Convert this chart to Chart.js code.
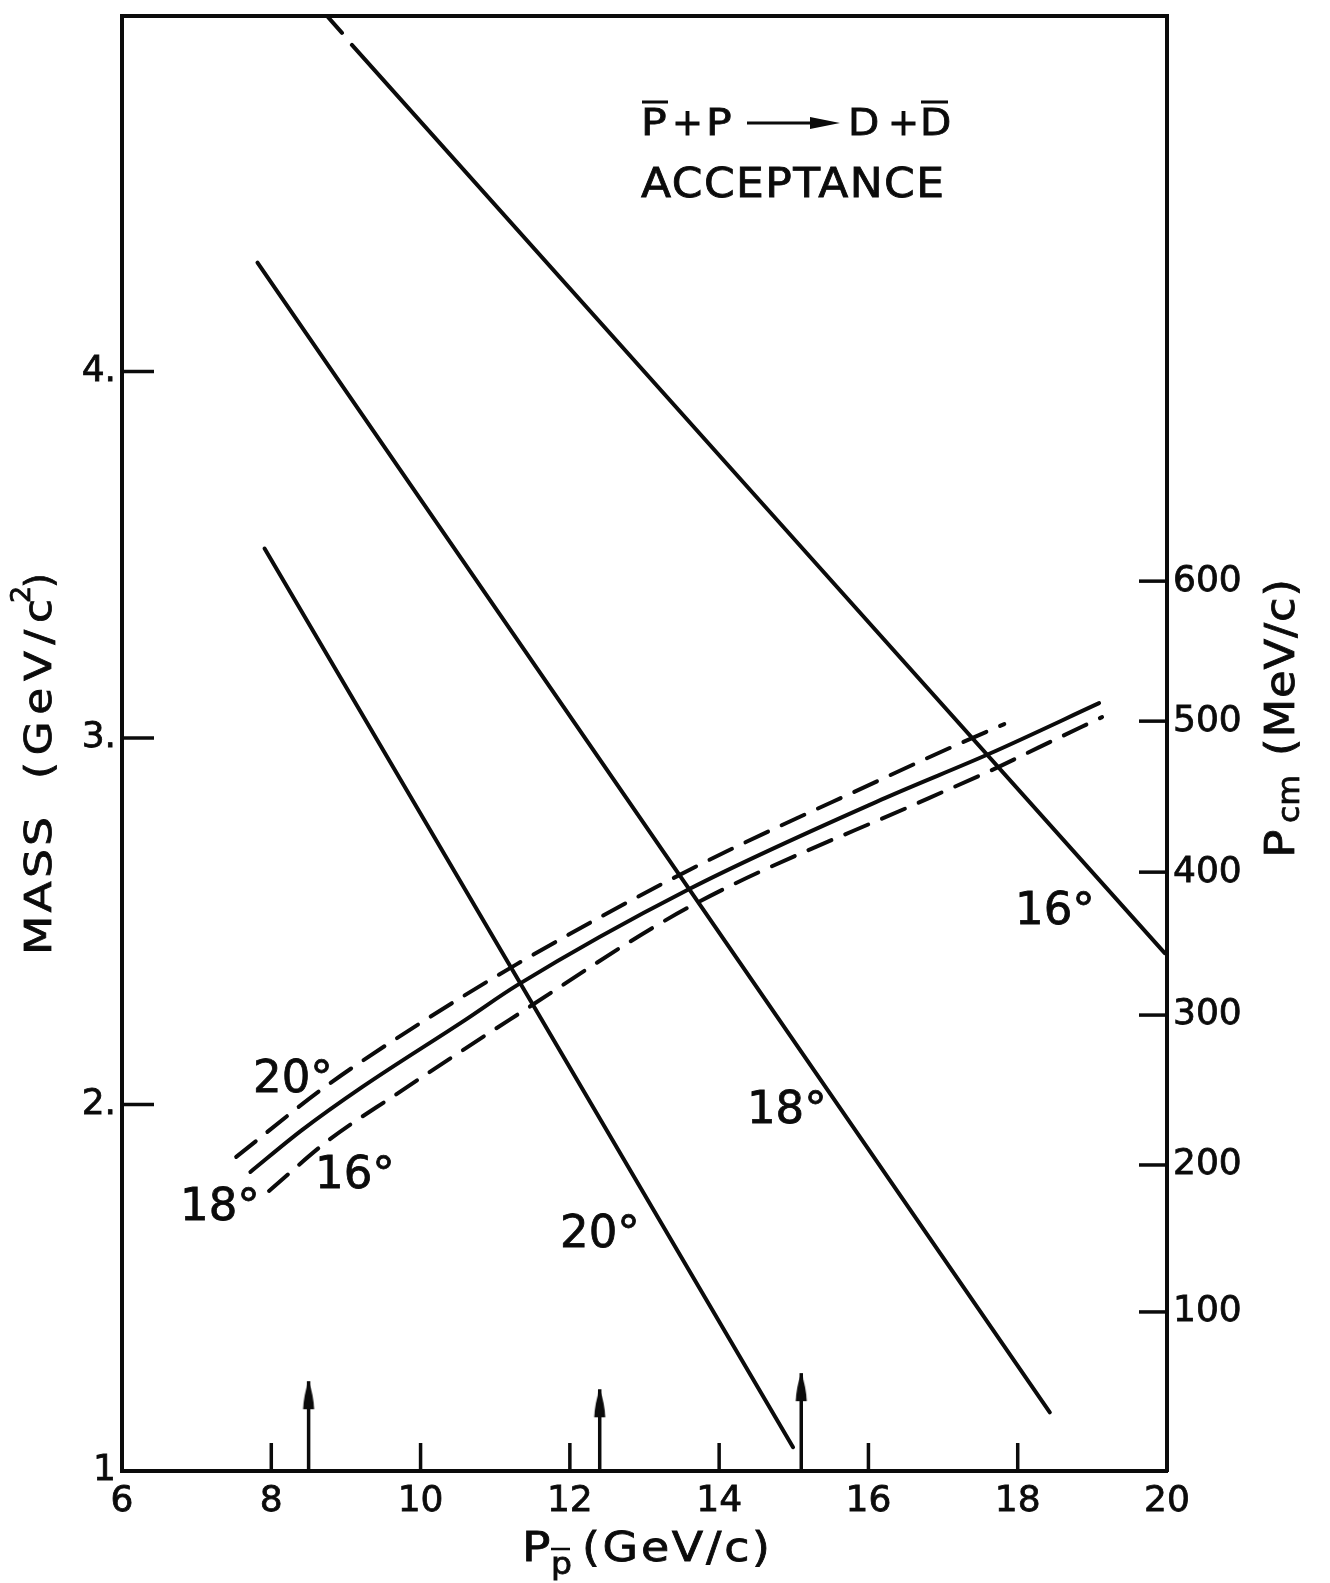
<!DOCTYPE html>
<html>
<head>
<meta charset="utf-8">
<title>P̄+P → D+D̄ acceptance</title>
<script src="https://cdn.jsdelivr.net/npm/chart.js@4.4.1/dist/chart.umd.min.js"></script>
<style>
    html, body { margin: 0; padding: 0; background: #fff; }
    #wrap { width: 1330px; height: 1583px; }
</style>
</head>
<body>
<div id="wrap"><canvas id="acceptance" width="1330" height="1583"></canvas></div>
<script>
// axis ranges and tick values
const xMin = 6, xMax = 20;
const massMin = 1, massMax = 4.97;
const massTicks = [1, 2, 3, 4];
const pcmLabels = [100, 200, 300, 400, 500, 600];
const pcmAtMass = [1.434, 1.835, 2.244, 2.634, 3.046, 3.428];

// steep lines (fixed angle, falling with beam momentum)
const steep20X = [7.91, 14.99];
const steep20Y = [3.517, 1.065];
const steep18X = [7.815, 18.43];
const steep18Y = [4.297, 1.16];
const steep16StubX = [8.747, 8.947];
const steep16StubY = [4.97, 4.924];
const steep16X = [9.08, 19.97];
const steep16Y = [4.891, 2.413];

// acceptance band (rising curves)
const band20X = [7.53, 8.72, 10.02, 11.29, 13.60, 16.18, 17.08, 17.82];
const band20Y = [1.857, 2.048, 2.225, 2.383, 2.640, 2.888, 2.972, 3.038];
const band18X = [7.72, 8.41, 9.22, 10.60, 11.29, 13.60, 16.22, 17.62, 19.09];
const band18Y = [1.816, 1.930, 2.048, 2.231, 2.325, 2.588, 2.836, 2.957, 3.095];
const band16X = [7.97, 8.77, 9.66, 11.19, 13.60, 16.81, 17.66, 18.29, 19.13];
const band16Y = [1.764, 1.903, 2.026, 2.231, 2.539, 2.836, 2.913, 2.975, 3.057];

// arrows on the momentum axis
const arrowX = [8.5, 12.4, 15.1];
const arrowTip = [1.245, 1.223, 1.267];

// angle labels, anchored at left/baseline in data units
const angleNotes = [
    {text: '20°', x: 7.755, y: 2.034},
    {text: '18°', x: 6.777, y: 1.685},
    {text: '16°', x: 8.586, y: 1.772},
    {text: '20°', x: 11.868, y: 1.611},
    {text: '18°', x: 14.373, y: 1.950},
    {text: '16°', x: 17.964, y: 2.492}
];

const ink = '#0b0b0b';
const face = '"DejaVu Sans", "Noto Sans", sans-serif';
Chart.defaults.font.family = face;
Chart.defaults.color = ink;

const pts = (xs, ys) => xs.map((x, i) => ({x: x, y: ys[i]}));

function lineSet(xs, ys, dashed) {
    return {
        data: pts(xs, ys),
        showLine: true,
        borderColor: ink,
        borderWidth: 4,
        borderDash: dashed ? [25, 15] : [],
        borderCapStyle: 'round',
        pointRadius: 0,
        tension: 0.4,
        cubicInterpolationMode: 'monotone',
        fill: false
    };
}

// narrow arrow head, tip at the centre of the image
const arrowHead = document.createElement('canvas');
arrowHead.width = 14;
arrowHead.height = 60;
(function() {
    const c = arrowHead.getContext('2d');
    c.fillStyle = ink;
    c.beginPath();
    c.moveTo(7, 30);
    c.quadraticCurveTo(12, 44, 12.5, 58);
    c.lineTo(1.5, 58);
    c.quadraticCurveTo(2, 44, 7, 30);
    c.fill();
})();

const arrowSets = arrowX.map((x, i) => ({
    data: [{x: x, y: massMin}, {x: x, y: arrowTip[i]}],
    showLine: true,
    borderColor: ink,
    borderWidth: 3.5,
    pointRadius: ctx => ctx.dataIndex === 1 ? 5 : 0,
    pointStyle: arrowHead,
    fill: false
}));

// stretched / spaced lettering to mimic the wide stencil font
function fitText(ctx, text, x, y, width, sx) {
    sx = sx || 1.12;
    ctx.save();
    ctx.letterSpacing = '0px';
    const w = ctx.measureText(text).width * sx;
    const n = [...text].length;
    const ls = n > 1 ? Math.max(0, (width - w) / (n - 1)) / sx : 0;
    ctx.translate(x, y);
    ctx.scale(sx, 1);
    ctx.letterSpacing = ls + 'px';
    ctx.lineWidth = 0.8;
    ctx.strokeText(text, 0, 0);
    ctx.fillText(text, 0, 0);
    ctx.restore();
}

const inwardTicks = {
    id: 'inwardTicks',
    afterDraw(chart) {
        const {ctx, chartArea: a, scales} = chart;
        ctx.save();
        ctx.strokeStyle = ink;
        ctx.lineWidth = 3.5;
        const seg = (x1, y1, x2, y2) => {
            ctx.beginPath(); ctx.moveTo(x1, y1); ctx.lineTo(x2, y2); ctx.stroke();
        };
        scales.x.ticks.forEach(t => {
            if (t.value <= xMin || t.value >= xMax) return;
            const px = scales.x.getPixelForValue(t.value);
            seg(px, a.bottom, px, a.bottom - 28);
        });
        scales.y.ticks.forEach(t => {
            if (t.value <= massMin) return;
            const py = scales.y.getPixelForValue(t.value);
            seg(a.left, py, a.left + 32, py);
        });
        scales.y2.ticks.forEach(t => {
            const py = scales.y2.getPixelForValue(t.value);
            seg(a.right, py, a.right - 28, py);
        });
        ctx.restore();
    }
};

const lettering = {
    id: 'lettering',
    afterDraw(chart) {
        const {ctx, scales: {x, y}} = chart;
        ctx.save();
        ctx.fillStyle = ink;
        ctx.strokeStyle = ink;
        ctx.textAlign = 'left';
        ctx.textBaseline = 'alphabetic';

        // reaction: Pbar + P -> D + Dbar
        ctx.font = '37px ' + face;
        fitText(ctx, 'P', 641, 135, 25, 1.15);
        fitText(ctx, '+', 672, 135, 20, 1.0);
        fitText(ctx, 'P', 706, 135, 25, 1.15);
        fitText(ctx, 'D', 848, 135, 27, 1.1);
        fitText(ctx, '+', 888, 135, 20, 1.0);
        fitText(ctx, 'D', 920, 135, 27, 1.1);
        ctx.lineWidth = 3.2;
        ctx.beginPath();
        ctx.moveTo(642, 102); ctx.lineTo(668, 102);
        ctx.moveTo(921, 102); ctx.lineTo(948, 102);
        ctx.moveTo(747, 123); ctx.lineTo(815, 123);
        ctx.stroke();
        ctx.beginPath();
        ctx.moveTo(810, 117); ctx.lineTo(840, 123); ctx.lineTo(810, 129);
        ctx.closePath(); ctx.fill();

        ctx.font = '40px ' + face;
        fitText(ctx, 'ACCEPTANCE', 641, 197, 303, 1.1);

        // angle labels
        ctx.font = '45px ' + face;
        ctx.lineWidth = 0.8;
        angleNotes.forEach(n => {
            const px = x.getPixelForValue(n.x), py = y.getPixelForValue(n.y);
            ctx.strokeText(n.text, px, py);
            ctx.fillText(n.text, px, py);
        });

        // left axis title
        ctx.save();
        ctx.translate(51, 955);
        ctx.rotate(-Math.PI / 2);
        ctx.font = '38px ' + face;
        fitText(ctx, 'MASS', 0, 0, 138, 1.2);
        fitText(ctx, '(GeV/c', 176, 0, 180, 1.15);
        ctx.font = '27px ' + face;
        fitText(ctx, '2', 352, -21, 16, 1.0);
        ctx.font = '38px ' + face;
        fitText(ctx, ')', 367, 0, 12, 1.0);
        ctx.restore();

        // right axis title
        ctx.save();
        ctx.translate(1294, 858);
        ctx.rotate(-Math.PI / 2);
        ctx.font = '41px ' + face;
        fitText(ctx, 'P', 0, 0, 30, 1.15);
        ctx.font = '30px ' + face;
        fitText(ctx, 'cm', 35, 5, 31, 1.05);
        ctx.font = '40px ' + face;
        fitText(ctx, '(MeV/c)', 102, 0, 177, 1.12);
        ctx.restore();

        // bottom axis title
        ctx.font = '41px ' + face;
        fitText(ctx, 'P', 522, 1561, 28, 1.15);
        ctx.font = '30px ' + face;
        fitText(ctx, 'p', 551, 1574, 18, 1.1);
        ctx.lineWidth = 2.5;
        ctx.beginPath(); ctx.moveTo(551, 1549); ctx.lineTo(570, 1549); ctx.stroke();
        ctx.font = '41px ' + face;
        fitText(ctx, '(GeV/c)', 582, 1561, 188, 1.12);

        ctx.restore();
    }
};

const frameBorder = {color: ink, width: 4};
const tickFont = {size: 36};
const tickText = {font: tickFont, autoSkip: false, textStrokeColor: ink, textStrokeWidth: 0.8};
const noEdgePadding = s => { s.paddingTop = 0; s.paddingBottom = 0; };

new Chart(document.getElementById('acceptance'), {
    type: 'scatter',
    data: {
        datasets: [
            lineSet(steep20X, steep20Y, false),
            lineSet(steep18X, steep18Y, false),
            lineSet(steep16StubX, steep16StubY, false),
            lineSet(steep16X, steep16Y, false),
            lineSet(band20X, band20Y, true),
            lineSet(band18X, band18Y, false),
            lineSet(band16X, band16Y, true)
        ].concat(arrowSets)
    },
    options: {
        responsive: false,
        animation: false,
        events: [],
        layout: {padding: {top: 16, left: 0, right: 0, bottom: 0}},
        plugins: {
            legend: {display: false},
            tooltip: {enabled: false}
        },
        scales: {
            x: {
                type: 'linear',
                position: 'bottom',
                min: xMin,
                max: xMax,
                ticks: Object.assign({stepSize: 2, padding: 9, maxRotation: 0}, tickText),
                grid: {drawOnChartArea: false, drawTicks: false},
                border: frameBorder,
                afterFit: s => { s.height = 112; s.paddingLeft = 0; s.paddingRight = 0; }
            },
            x2: {
                type: 'linear',
                position: 'top',
                min: xMin,
                max: xMax,
                ticks: {display: false},
                grid: {drawOnChartArea: false, drawTicks: false},
                border: frameBorder,
                afterFit: s => { s.height = 0; s.paddingLeft = 0; s.paddingRight = 0; }
            },
            y: {
                type: 'linear',
                position: 'left',
                min: massMin,
                max: massMax,
                afterBuildTicks: s => { s.ticks = massTicks.map(v => ({value: v})); },
                ticks: Object.assign({
                    callback: v => v === massMin ? '1' : v + '.',
                    padding: 6
                }, tickText),
                grid: {drawOnChartArea: false, drawTicks: false},
                border: frameBorder,
                afterFit: s => { s.width = 122; noEdgePadding(s); }
            },
            y2: {
                type: 'linear',
                position: 'right',
                min: massMin,
                max: massMax,
                afterBuildTicks: s => { s.ticks = pcmAtMass.map(v => ({value: v})); },
                ticks: Object.assign({
                    callback: (v, i) => String(pcmLabels[i]),
                    padding: 6
                }, tickText),
                grid: {drawOnChartArea: false, drawTicks: false},
                border: frameBorder,
                afterFit: s => { s.width = 163; noEdgePadding(s); }
            }
        }
    },
    plugins: [inwardTicks, lettering]
});
</script>
</body>
</html>
